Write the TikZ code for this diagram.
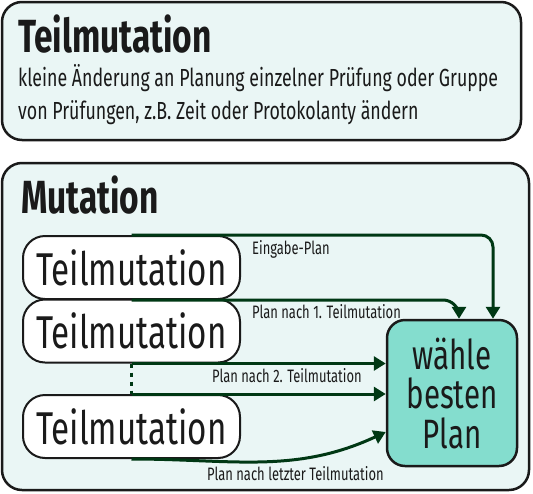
\documentclass[tikz,border=0pt]{standalone}
\usepackage{fontspec}
\setmainfont{Fira Sans}[FakeStretch=0.72]
\usetikzlibrary{arrows.meta, positioning, calc}

\definecolor{hellblau}{RGB}{234,246,245}
\definecolor{tuerkis}{RGB}{132,221,206}
\definecolor{dunkelgruen}{RGB}{0,56,20}
\definecolor{rand}{RGB}{26,26,26}

\tikzset{
  rahmen/.style={draw=rand, line width=2.5pt, fill=hellblau, rounded corners=20pt},
  titel/.style={anchor=base west, inner sep=0pt, text=rand, font=\bfseries\fontsize{46.5}{50}\selectfont},
  teil/.style={draw=rand, line width=2pt, fill=white, rounded corners=22pt, minimum width=217pt, minimum height=63pt, inner sep=0pt, text=rand, font=\fontsize{46}{50}\selectfont},
  bestbox/.style={draw=rand, line width=2.5pt, fill=tuerkis, rounded corners=18pt, minimum width=130pt, minimum height=146pt, inner sep=0pt, align=center, text=rand, font=\fontsize{41}{39.5}\selectfont},
  pfeil/.style={draw=dunkelgruen, line width=3pt, -{Triangle[length=12pt,width=14pt]}},
  lbl/.style={anchor=base west, inner sep=0pt, text=rand, font=\fontsize{18}{20}\selectfont}
}

\begin{document}
\begin{tikzpicture}[x=1pt, y=-1pt]
\useasboundingbox (0,0) rectangle (533,493);

% Teilmutation
\draw[rahmen] (2,2) rectangle (521,140);
\node[titel] (titel1) at (18,52) {Teilmutation};
\node[anchor=base west, inner sep=0pt, text=rand, font=\fontsize{24.7}{33}\selectfont] (text1) at (18,86) {kleine Änderung an Planung einzelner Prüfung oder Gruppe};
\node[anchor=base west, inner sep=0pt, text=rand, font=\fontsize{24.7}{33}\selectfont] (text2) at (18,119) {von Prüfungen, z.B. Zeit oder Protokolanty ändern};

% Mutation
\draw[rahmen] (2,163) rectangle (529,490);
\node[titel] (titel2) at (21,213) {Mutation};

\node[teil] (t1) at (131.5,267.5) {Teilmutation};
\node[teil] (t2) at (131.5,331) {Teilmutation};
\node[teil] (t3) at (131.5,426.5) {Teilmutation};
\node[bestbox] (best) at (452,393) {wähle\\besten\\Plan};

\coordinate (e1) at ([xshift=41pt]best.north);
\coordinate (e2) at ([xshift=7pt]best.north);
\coordinate (e5) at ([yshift=-39pt]best.west);

% Pfeile
\draw[pfeil, rounded corners=12pt] (t1.north) -| (e1);
\draw[pfeil, rounded corners=16pt] (t1.south) -| (e2);
\draw[pfeil] (t2.south) -- (t2.south -| best.west);
\draw[pfeil] (t3.north) -- (t3.north -| best.west);
\draw[pfeil] (t3.south) to[out=0, in=205] (e5);
\draw[dunkelgruen, line width=2.5pt, dash pattern=on 4pt off 5pt] (t2.south) -- (t3.north);

\node[lbl] (l1) at (252,254) {Eingabe-Plan};
\node[lbl] (l2) at (252,318) {Plan nach 1. Teilmutation};
\node[lbl] (l3) at (212,382) {Plan nach 2. Teilmutation};
\node[lbl] (l4) at (207,480) {Plan nach letzter Teilmutation};
\end{tikzpicture}
\end{document}
